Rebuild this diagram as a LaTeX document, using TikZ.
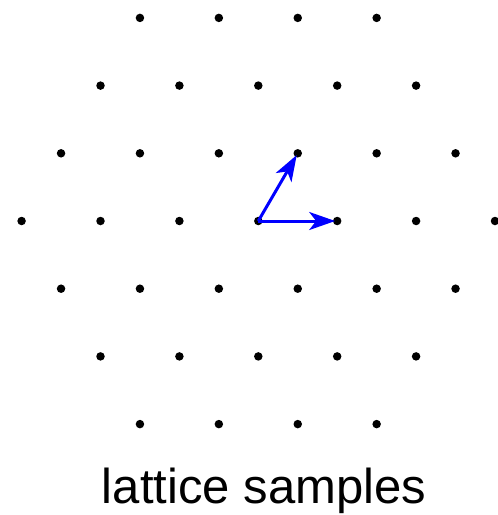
\documentclass[tikz,border=0pt]{standalone}
\usepackage{fontspec}
\setmainfont{Liberation Sans}
\usetikzlibrary{arrows.meta}
\begin{document}
\begin{tikzpicture}[x=1pt,y=-1pt,
  dot/.style={circle,fill=black,inner sep=0pt,minimum size=8.5pt},
  vec/.style={blue,line width=3pt,shorten >=2pt,-{Stealth[length=26pt,width=18pt,inset=7pt]}}]
\useasboundingbox (0,0) rectangle (498,515);
\def\dx{78.9}
\def\dy{67.7}
\foreach \r in {-3,...,3}{
  \pgfmathtruncatemacro{\ar}{abs(\r)}
  \pgfmathtruncatemacro{\n}{6-\ar}
  \foreach \k in {0,...,\n}{
    \pgfmathsetmacro{\xx}{258.3+(\k-3+0.5*\ar)*\dx}
    \pgfmathsetmacro{\yy}{221+\r*\dy}
    \node[dot] (p\r_\k) at (\xx,\yy) {};
  }
}
\draw[vec] (p0_3.center) -- (p0_4.center);
\draw[vec] (p0_3.center) -- (p-1_3.center);
\node[font=\fontsize{49}{58}\selectfont,anchor=base] (lbl) at (264,503) {lattice samples};
\end{tikzpicture}
\end{document}
